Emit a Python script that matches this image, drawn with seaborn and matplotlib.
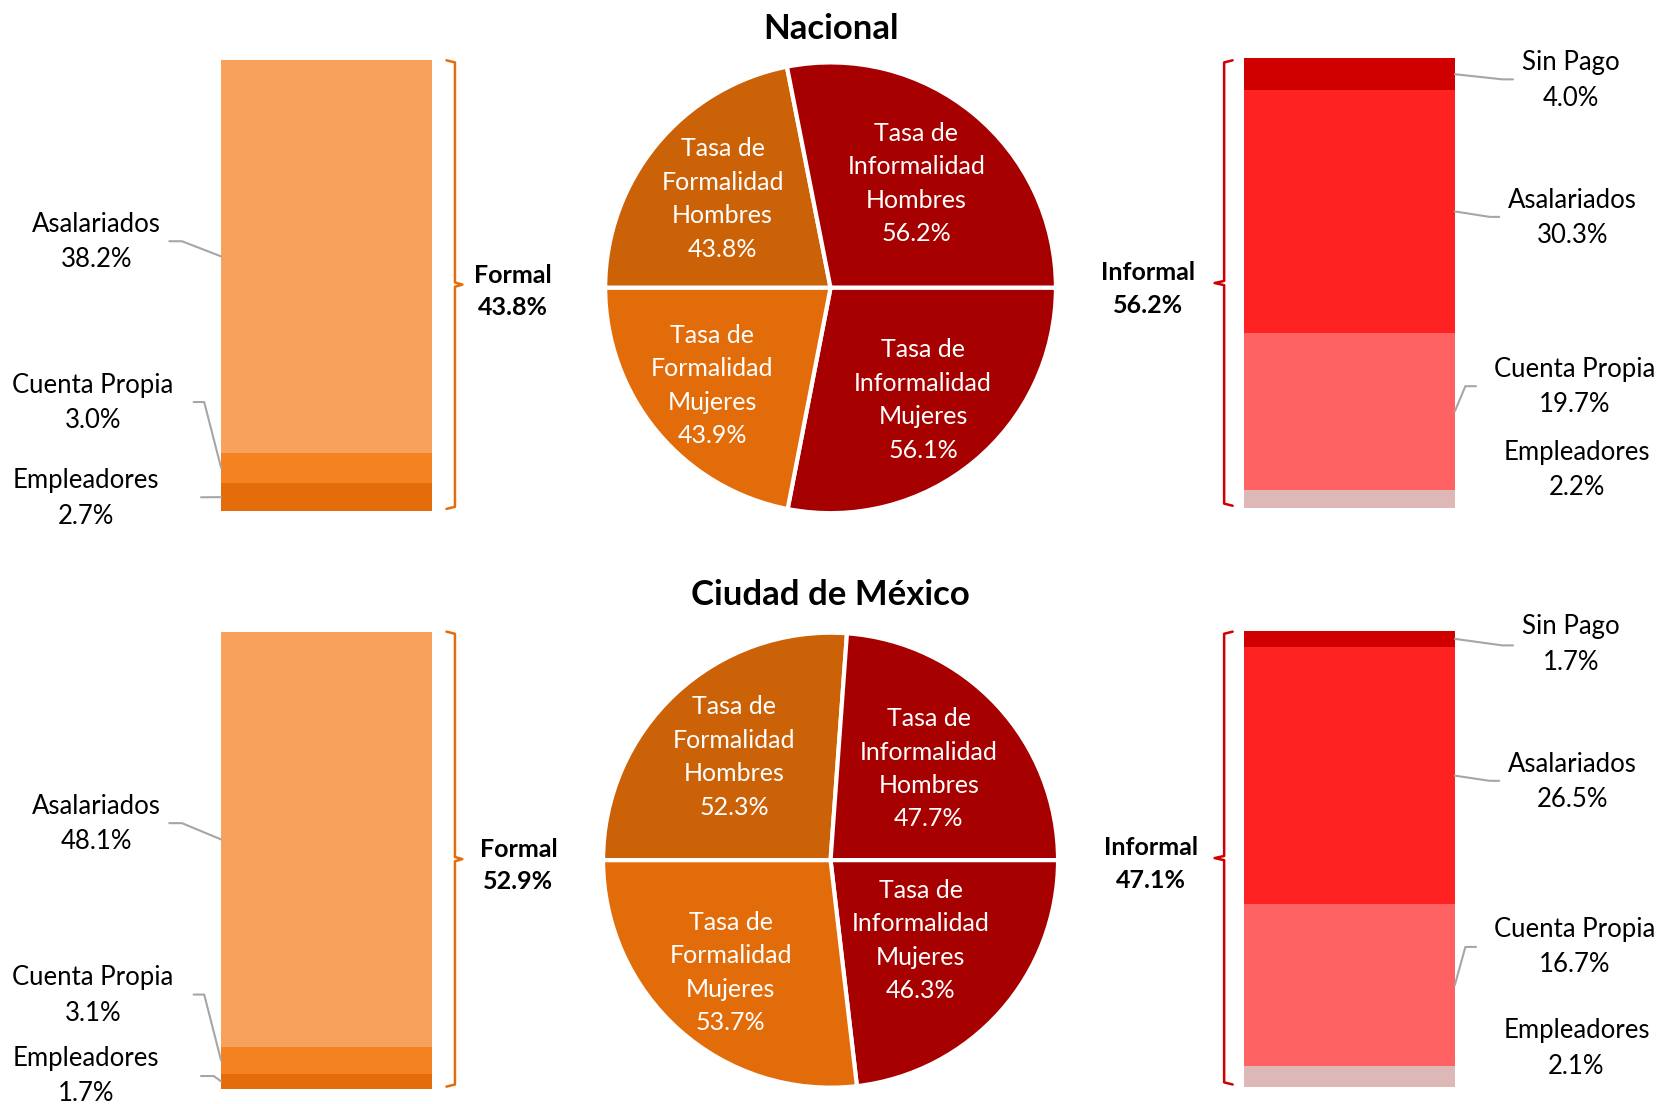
"""
Formalidad / informalidad laboral: Nacional y Ciudad de México.
Pie por sexo al centro, desglose por posición en la ocupación a los lados.
"""
import numpy as np
import matplotlib
matplotlib.use('Agg')
import matplotlib.pyplot as plt
from matplotlib.lines import Line2D
import seaborn as sns

# ---- data ----
REGIONS = ["Nacional", "Ciudad de México"]
FORMAL_TOTAL = [43.8, 52.9]
INFORMAL_TOTAL = [56.2, 47.1]

PIE_LABELS = ["Tasa de\nFormalidad\nHombres", "Tasa de\nInformalidad\nHombres",
              "Tasa de\nInformalidad\nMujeres", "Tasa de\nFormalidad\nMujeres"]
NAC_PIE = [43.8, 56.2, 56.1, 43.9]      # FH, IH, IM, FM
CDMX_PIE = [52.3, 47.7, 46.3, 53.7]

FORMAL_CATS = ["Empleadores", "Cuenta Propia", "Asalariados"]          # bottom -> top
NAC_FORMAL = [2.7, 3.0, 38.2]
CDMX_FORMAL = [1.7, 3.1, 48.1]

INFORMAL_CATS = ["Empleadores", "Cuenta Propia", "Asalariados", "Sin Pago"]
NAC_INFORMAL = [2.2, 19.7, 30.3, 4.0]
CDMX_INFORMAL = [2.1, 16.7, 26.5, 1.7]

# ---- style ----
FORMAL_COLORS = ["#E46C0A", "#F58220", "#F8A15C"]
INFORMAL_COLORS = ["#DEB7B7", "#FF6262", "#FF2222", "#D00000"]
PIE_COLORS = ["#CC6208", "#A60000", "#A60000", "#E36C0A"]
LEADER = "#A6A6A6"

W, H = 1659, 1104
S = W / 1568          # layout below measured on a 1568 px wide grid

sns.set_theme(style='white')
plt.rcParams['font.family'] = ['Lato', 'DejaVu Sans']
plt.rcParams['text.color'] = 'black'

fig = plt.figure(figsize=(W / 100, H / 100), dpi=100)
fig.patch.set_facecolor('white')


def rect(x0, y0, x1, y1):
    x0, y0, x1, y1 = [v * S for v in (x0, y0, x1, y1)]
    return [x0 / W, 1 - y1 / H, (x1 - x0) / W, (y1 - y0) / H]


def fpt(x, y):
    return x * S / W, 1 - y * S / H


def stacked_bar(box, values, colors):
    ax = fig.add_axes(rect(*box))
    cum = np.cumsum(values)
    for top, c in sorted(zip(cum, colors), reverse=True):
        sns.barplot(x=['x'], y=[top], color=c, width=1, saturation=1,
                    linewidth=0, errorbar=None, ax=ax)
    ax.set_xlim(-0.5, 0.5)
    ax.set_ylim(0, cum[-1])
    ax.axis('off')
    return ax, cum - np.asarray(values) / 2


def leader(ax, edge_x, y_val, pts):
    disp = ax.transData.transform((edge_x, y_val))
    bx, by = fig.transFigure.inverted().transform(disp)
    xs = [fpt(*p)[0] for p in pts] + [bx]
    ys = [fpt(*p)[1] for p in pts] + [by]
    fig.add_artist(Line2D(xs, ys, transform=fig.transFigure, color=LEADER, lw=1.5))


def bracket(x, x_tick, top, bottom, tip_x, color):
    mid = (top + bottom) / 2
    pts = [(x_tick, top), (x, top + 2), (x, mid - 2), (tip_x, mid),
           (x, mid + 2), (x, bottom - 2), (x_tick, bottom)]
    fig.add_artist(Line2D([fpt(*p)[0] for p in pts], [fpt(*p)[1] for p in pts],
                          transform=fig.transFigure, color=color, lw=1.8))


def label(x, y, text, **kw):
    fig.text(*fpt(x, y), text, ha='center', va='center', ma='center',
             fontsize=kw.pop('fontsize', 18.5), linespacing=1.52, color='black', **kw)


def pie(center, r, values, dists):
    cx, cy = center
    ax = fig.add_axes(rect(cx - r, cy - r, cx + r, cy + r))
    labels = [f"{l}\n{v:.1f}%" for l, v in zip(PIE_LABELS, values)]
    wedges, texts = ax.pie(values, labels=labels, colors=PIE_COLORS, startangle=180,
                           counterclock=False, labeldistance=0.64,
                           wedgeprops=dict(edgecolor='white', linewidth=3),
                           textprops=dict(color='white', fontsize=18, ha='center',
                                          va='center', ma='center', linespacing=1.55))
    for w, t, d in zip(wedges, texts, dists):
        a = np.deg2rad((w.theta1 + w.theta2) / 2)
        t.set_position((d * np.cos(a), d * np.sin(a)))
    ax.set_xlim(-1, 1)
    ax.set_ylim(-1, 1)


# label centres and leader elbows, listed bottom -> top like the categories
rows = [
    dict(formal=NAC_FORMAL, informal=NAC_INFORMAL, pie=NAC_PIE,
         lbar=(209, 57, 408, 483), rbar=(1176, 55, 1375, 480),
         center=(785, 272), r=213, title_y=27, dists=[0.62, 0.60, 0.645, 0.68],
         fl=(485, 275.5), il=(1085, 273), lbr=(57, 481), rbr=(57, 478),
         left_lab=[(81, 471, [(190, 470)]),
                   (88, 381, [(183, 380), (193, 380)]),
                   (91, 229, [(160, 228), (172, 228)])],
         right_lab=[(1490, 444, []),
                    (1488, 366, [(1395, 365), (1385, 365)]),
                    (1486, 206, [(1417, 205), (1408, 205)]),
                    (1485, 76, [(1430, 75), (1420, 75)])]),
    dict(formal=CDMX_FORMAL, informal=CDMX_INFORMAL, pie=CDMX_PIE,
         lbar=(209, 597, 408, 1029), rbar=(1176, 596, 1375, 1027),
         center=(785, 813), r=215, title_y=562, dists=[0.62, 0.59, 0.53, 0.66],
         fl=(490, 818), il=(1088, 816.5), lbr=(597, 1027), rbr=(597, 1025),
         left_lab=[(81, 1017, [(190, 1017), (202, 1017)]),
                   (88, 941, [(183, 940), (193, 940)]),
                   (91, 779, [(160, 778), (172, 778)])],
         right_lab=[(1490, 991, []),
                    (1488, 895, [(1395, 895), (1385, 895)]),
                    (1486, 739, [(1417, 738), (1408, 738)]),
                    (1485, 609, [(1430, 610), (1420, 610)])]),
]

for i, row in enumerate(rows):
    fig.text(*fpt(785, row['title_y']), REGIONS[i], ha='center', va='center',
             fontsize=25, fontweight='bold', color='black')

    # formal side
    axl, mids = stacked_bar(row['lbar'], row['formal'], FORMAL_COLORS)
    for (x, y, pts), cat, v, m in zip(row['left_lab'], FORMAL_CATS, row['formal'], mids):
        label(x, y, f"{cat}\n{v:.1f}%")
        leader(axl, -0.5, m, pts)
    bracket(430, 422, *row['lbr'], 437, "#E46C0A")
    label(*row['fl'], f"Formal\n{FORMAL_TOTAL[i]:.1f}%", fontsize=18, fontweight='bold')

    # pie
    pie(row['center'], row['r'], row['pie'], row['dists'])

    # informal side
    axr, mids = stacked_bar(row['rbar'], row['informal'], INFORMAL_COLORS)
    for (x, y, pts), cat, v, m in zip(row['right_lab'], INFORMAL_CATS, row['informal'], mids):
        label(x, y, f"{cat}\n{v:.1f}%")
        if pts:
            leader(axr, 0.5, m, pts)
    bracket(1157, 1165, *row['rbr'], 1148, "#D00000")
    label(*row['il'], f"Informal\n{INFORMAL_TOTAL[i]:.1f}%", fontsize=18, fontweight='bold')

fig.savefig("out.png", dpi=100, facecolor='white')
plt.close(fig)
